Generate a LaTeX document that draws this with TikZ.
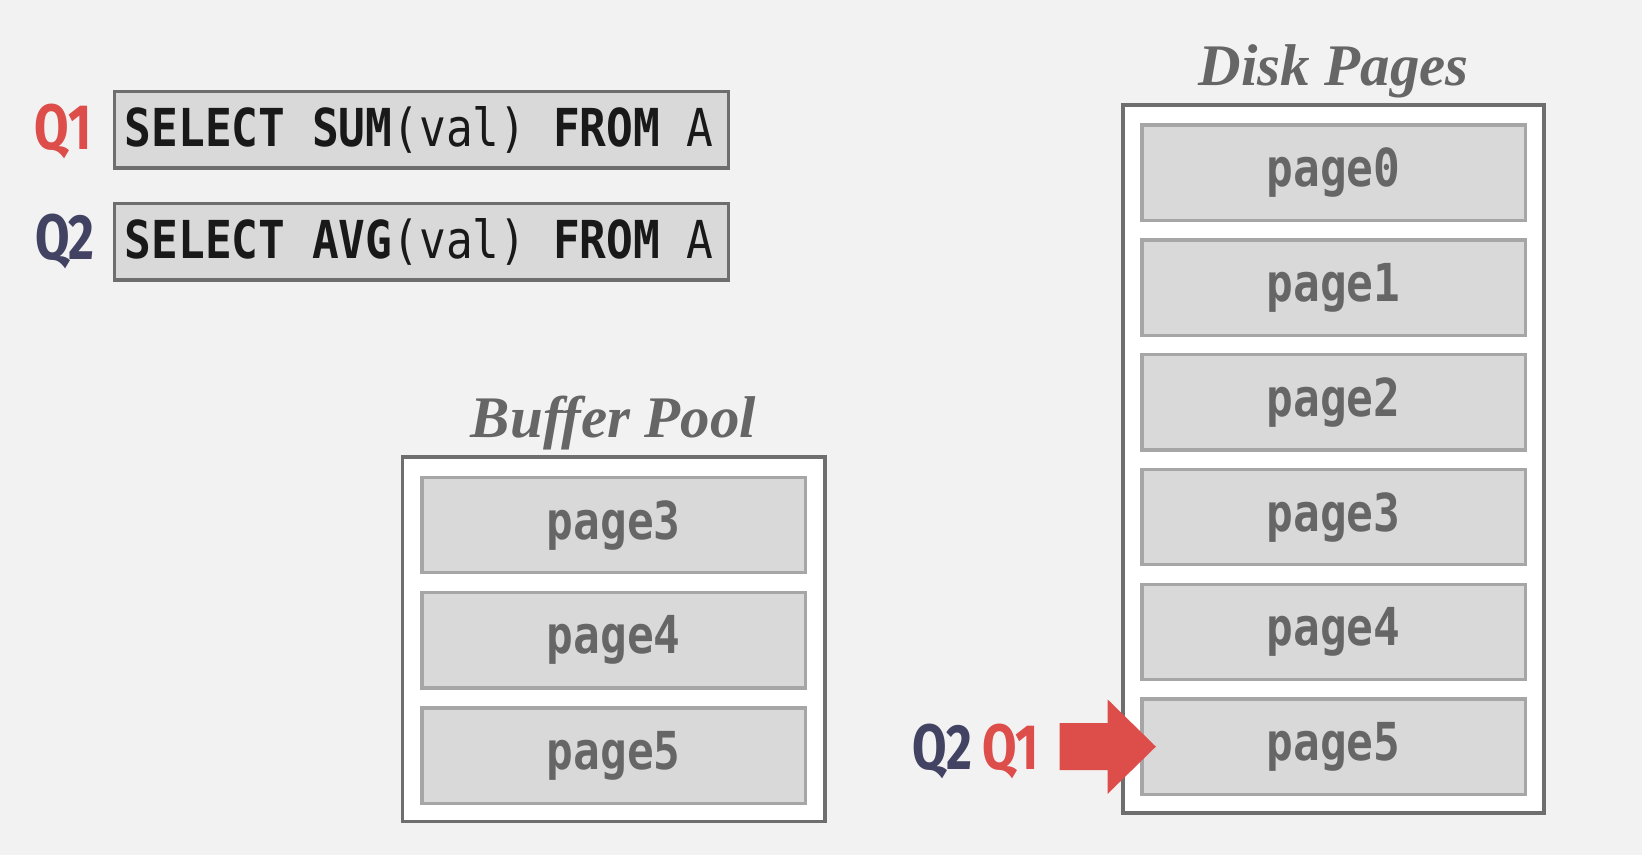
\documentclass[tikz,border=0pt]{standalone}
\usepackage{fontspec}
\usepackage{tikz}
\usetikzlibrary{calc,positioning}
\setmainfont{Fira Sans}
\newfontfamily\qfont[FakeStretch=0.78]{Fira Sans}
\newfontfamily\codefont[FakeStretch=0.85]{DejaVu Sans Mono}
\newfontfamily\titlefont{Liberation Serif}
\definecolor{bggray}{RGB}{242,242,242}
\definecolor{boxedge}{RGB}{110,110,110}
\definecolor{pagefill}{RGB}{217,217,217}
\definecolor{pageedge}{RGB}{166,166,166}
\definecolor{labelgray}{RGB}{102,102,102}
\definecolor{qred}{RGB}{221,77,74}
\definecolor{qnavy}{RGB}{66,66,98}

\begin{document}
\begin{tikzpicture}[x=0.01cm, y=-0.01cm,
  sqlbox/.style={draw=boxedge, fill=pagefill, line width=1pt, minimum width=5.86cm, minimum height=0.73cm, inner sep=0pt},
  sqltext/.style={anchor=west, inner sep=0pt, text=black!90, font=\codefont\fontsize{14.2}{16}\selectfont},
  qlabel/.style={inner sep=0pt, font=\qfont\bfseries\fontsize{17.4}{20}\selectfont},
  holder/.style={draw=boxedge, fill=white, line width=1pt, inner sep=0pt},
  pagebox/.style={draw=pageedge, fill=pagefill, line width=0.9pt, minimum width=3.66cm, minimum height=0.91cm, inner sep=0pt, text=labelgray, font=\codefont\bfseries\fontsize{14.2}{16}\selectfont},
  title/.style={anchor=base, inner sep=0pt, text=labelgray, font=\titlefont\bfseries\itshape\fontsize{16}{18}\selectfont}]
\useasboundingbox (0,0) rectangle (1568,816);
\fill[bggray] (0,0) rectangle (1568,816);

% queries
\node[sqlbox] (sql1) at (402.5,124) {};
\node[sqlbox] (sql2) at (402.5,231) {};
\node[sqltext] at ($(sql1.west)+(11,0)$) {\textbf{SELECT SUM}(val) \textbf{FROM} A};
\node[sqltext] at ($(sql2.west)+(11,0)$) {\textbf{SELECT AVG}(val) \textbf{FROM} A};
\node[qlabel, text=qred] (q1) at (60,126) {Q1};
\node[qlabel, text=qnavy] (q2) at (62,231) {Q2};

% buffer pool
\node[title] at (586,418) {Buffer Pool};
\node[holder, minimum width=4.03cm, minimum height=3.48cm] (pool) at (586,610.5) {};
\foreach \n [count=\i from 0] in {3,4,5}
{
\node[pagebox] (b\n) at (586,501.5+110*\i) {page\n};
}

% disk pages
\node[title] at (1273.5,82) {Disk Pages};
\node[holder, minimum width=4.02cm, minimum height=6.76cm] (disk) at (1273.5,438.5) {};
\foreach \n in {0,...,5}
{
\node[pagebox] (d\n) at (1273.5,165+109.6*\n) {page\n};
}

% cursor
\coordinate (tip) at ($(d5.west)+(15,0)$);
\fill[qred] (tip) -- ++(-46,-45) -- ++(0,22.5) -- ++(-46,0) -- ++(0,45) -- ++(46,0) -- ++(0,22.5) -- cycle;
\node[qlabel, text=qred] (c1) at (965,718) {Q1};
\node[qlabel, text=qnavy] (c2) at (900,718) {Q2};
\end{tikzpicture}
\end{document}
